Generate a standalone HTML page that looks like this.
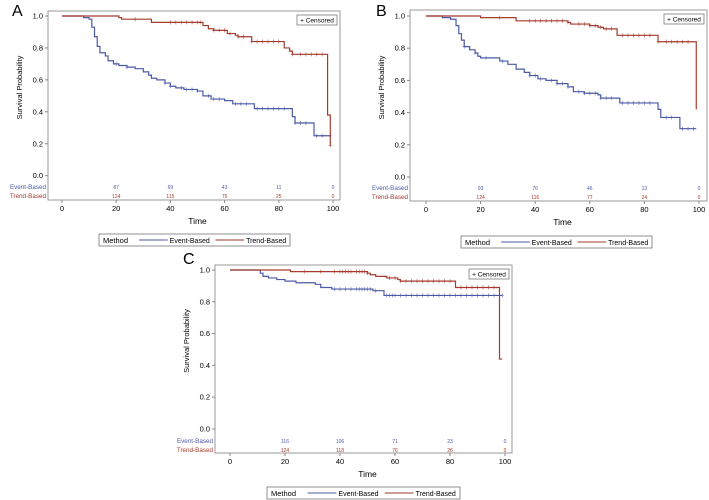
<!DOCTYPE html>
<html><head><meta charset="utf-8"><style>
body{margin:0;background:#fff;width:709px;height:500px;overflow:hidden}
svg{display:block;font-family:"Liberation Sans",sans-serif}
</style></head><body>
<svg id="c" width="709" height="500"></svg>
<script>
// Panel A data
const aEvent=[[0,1],[8,0.99],[10,0.98],[11,0.93],[12,0.87],[13,0.81],[14,0.77],[16,0.75],[17,0.72],[19,0.70],[21,0.69],[24,0.68],[27,0.67],[30,0.65],[32,0.63],[33,0.61],[35,0.60],[38,0.58],[40,0.56],[42,0.55],[45,0.54],[50,0.53],[52,0.50],[55,0.48],[60,0.47],[63,0.45],[71,0.42],[85,0.37],[86,0.33],[93,0.25],[99,0.25]];
const aTrend=[[0,1],[21,0.99],[22,0.98],[33,0.96],[52,0.94],[54,0.92],[56,0.91],[61,0.89],[64,0.88],[65,0.87],[70,0.84],[82,0.80],[84,0.78],[85,0.76],[98,0.38],[99,0.19],[99,0.19]];
const aEventCens=[20,24,38,40,44,46,48,50,54,56,58,64,66,68,72,74,76,78,80,82,86,88,90,94,96,99];
const aTrendCens=[27,40,42,44,46,48,50,51,56,58,60,62,65,67,70,72,74,76,78,80,85,88,90,92,94,96,99];
const aRiskE=["87","69","43","11","0"], aRiskT=["124","115","75","25","0"];
// Panel B data
const bEvent=[[0,1],[6,0.99],[9,0.98],[11,0.94],[12,0.89],[13,0.85],[14,0.81],[16,0.79],[18,0.77],[19,0.75],[20,0.74],[27,0.72],[30,0.70],[33,0.67],[36,0.65],[38,0.63],[41,0.61],[44,0.60],[48,0.58],[52,0.56],[54,0.53],[58,0.52],[63,0.51],[64,0.49],[71,0.46],[85,0.42],[86,0.37],[93,0.30],[99,0.30]];
const bTrend=[[0,1],[20,0.99],[33,0.97],[52,0.96],[53,0.95],[60,0.94],[63,0.93],[65,0.92],[70,0.88],[85,0.84],[99,0.42],[99,0.42]];
const bEventCens=[14,18,22,28,38,40,42,46,48,50,52,56,58,60,62,64,66,68,72,74,76,78,80,82,88,90,94,96,98];
const bTrendCens=[27,38,40,42,44,46,48,50,52,56,58,60,62,64,66,68,72,74,76,78,80,82,85,88,90,92,94,96];
const bRiskE=["93","76","46","13","0"], bRiskT=["124","116","77","24","0"];
// Panel C data
const cEvent=[[0,1],[11,0.98],[12,0.96],[14,0.95],[17,0.94],[20,0.93],[24,0.92],[31,0.91],[33,0.89],[37,0.88],[52,0.87],[56,0.84],[99,0.84]];
const cTrend=[[0,1],[22,0.99],[50,0.98],[51,0.97],[53,0.96],[57,0.95],[61,0.94],[62,0.93],[82,0.89],[98,0.44],[99,0.44]];
const cEventCens=[38,40,42,44,46,47,48,49,50,51,53,57,58,59,60,62,64,66,68,70,72,74,76,78,80,82,84,86,88,90,92,94,96,99];
const cTrendCens=[27,33,38,40,41,42,43,44,46,47,48,49,50,58,60,62,64,66,68,70,72,74,76,78,80,84,86,88,90,92,94,96];
const cRiskE=["116","106","71","23","0"], cRiskT=["124","118","76","26","0"];
const xTicks=[0,20,40,60,80,100], yTicks=[0,0.2,0.4,0.6,0.8,1.0];
const BLUE="#4b5aa6", RED="#a63a2e";
const NS="http://www.w3.org/2000/svg", svg=document.getElementById('c');
function mk(t,a,p,txt){const e=document.createElementNS(NS,t);for(const k in a)e.setAttribute(k,a[k]);if(txt!==undefined)e.textContent=txt;(p||svg).appendChild(e);return e;}
function stepAt(d,t){let v=d[0][1];for(const p of d){if(p[0]<=t)v=p[1];}return v;}
function panel(id,P,ev,tr,evC,trC,rE,rT){
  const g=mk('g',{});
  
  
  const X=v=>P.x0+(P.x1-P.x0)*v/100, Y=v=>P.y0+(P.y1-P.y0)*v;
  const lab=mk('text',{x:P.lx,y:P.ly,'font-size':16,fill:'#000'},g,id);
  
  const fr=mk('rect',{x:P.fl,y:P.ft,width:P.fr-P.fl,height:P.fb-P.ft,fill:'none',stroke:'#999','stroke-width':1},g);
  
  yTicks.forEach(t=>{const y=Y(t);mk('line',{x1:P.fl-3,x2:P.fl,y1:y,y2:y,stroke:'#888'},g);
    const tx=mk('text',{x:P.fl-5,y:y+2.5,'font-size':7.5,'text-anchor':'end'},g,t.toFixed(1));
    });
  xTicks.forEach(t=>{const x=X(t);mk('line',{x1:x,x2:x,y1:P.fb,y2:P.fb+3,stroke:'#888'},g);
    const tx=mk('text',{x:x,y:P.fb+11,'font-size':7.5,'text-anchor':'middle'},g,String(t));
    });
  const yt=mk('text',{transform:`translate(${P.fl-26},${(P.ft+P.fb)/2-18}) rotate(-90)`,'font-size':7.5,'text-anchor':'middle'},g,'Survival Probability');
  
  const xt=mk('text',{x:(P.x0+P.x1)/2,y:P.fb+24,'font-size':8.5,'text-anchor':'middle'},g,'Time');
  
  [[ev,evC,BLUE,'event-based'],[tr,trC,RED,'trend-based']].forEach(([d,cs,col,nm])=>{
    let s=`M${X(d[0][0])},${Y(d[0][1])}`;
    for(let i=1;i<d.length;i++){s+=`H${X(d[i][0])}V${Y(d[i][1])}`;}
    const p=mk('path',{d:s,fill:'none',stroke:col,'stroke-width':1.2},g);
    
    cs.forEach(t=>{const x=X(t),y=Y(stepAt(d,t));
      const c=mk('path',{d:`M${x-1.5},${y}H${x+1.5}M${x},${y-2}V${y+2}`,stroke:col,'stroke-width':0.7,opacity:0.8},g);
      });
  });
  [[rE,BLUE,P.rE,'Event-Based'],[rT,RED,P.rT,'Trend-Based']].forEach(([arr,col,y,nm])=>{
    const l=mk('text',{x:P.fl-2,y:y+2,'font-size':6.3,'text-anchor':'end',fill:col},g,nm);
    
    arr.forEach((v,i)=>{const t=mk('text',{x:X(xTicks[i+1]),y:y+2,'font-size':5,'text-anchor':'middle',fill:col},g,v);
      });
  });
  const cg=mk('g',{},g);
  mk('rect',{x:P.fr-43,y:P.ft+4,width:40,height:10,fill:'#fff',stroke:'#666','stroke-width':0.7},cg);
  mk('text',{x:P.fr-23,y:P.ft+11.5,'font-size':6.5,'text-anchor':'middle'},cg,'+ Censored');
  const lg=mk('g',{},g);
  const L=P.leg;
  mk('rect',{x:L[0],y:L[1],width:L[2]-L[0],height:12,fill:'#fff',stroke:'#777','stroke-width':0.8},lg);
  mk('text',{x:L[0]+4,y:L[1]+9,'font-size':7.5},lg,'Method');
  const w=L[2]-L[0];
  mk('line',{x1:L[0]+w*0.21,x2:L[0]+w*0.36,y1:L[1]+6,y2:L[1]+6,stroke:BLUE,'stroke-width':1},lg);
  mk('text',{x:L[0]+w*0.37,y:L[1]+9,'font-size':7},lg,'Event-Based');
  mk('line',{x1:L[0]+w*0.61,x2:L[0]+w*0.76,y1:L[1]+6,y2:L[1]+6,stroke:RED,'stroke-width':1},lg);
  mk('text',{x:L[0]+w*0.77,y:L[1]+9,'font-size':7},lg,'Trend-Based');
}
panel('A',{lx:12,ly:16,fl:48,fr:340,ft:11,fb:200,x0:62,x1:333,y0:175.7,y1:16,rE:187,rT:196,leg:[99,234,290]},aEvent,aTrend,aEventCens,aTrendCens,aRiskE,aRiskT);
panel('B',{lx:376,ly:16,fl:410,fr:707,ft:10,fb:201,x0:426,x1:699,y0:177,y1:16,rE:188,rT:197,leg:[461,236,652]},bEvent,bTrend,bEventCens,bTrendCens,bRiskE,bRiskT);
panel('C',{lx:183,ly:264,fl:215,fr:512,ft:265,fb:453,x0:230,x1:505,y0:429,y1:270,rE:441,rT:450,leg:[267,487,460]},cEvent,cTrend,cEventCens,cTrendCens,cRiskE,cRiskT);
</script>
</body></html>
